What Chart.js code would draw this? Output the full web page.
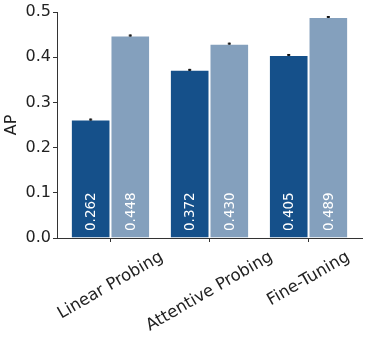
<!DOCTYPE html>
<html>
<head>
<meta charset="utf-8">
<script src="https://cdn.jsdelivr.net/npm/chart.js@4"></script>
<style>
  html, body { margin: 0; padding: 0; background: #fff; }
  #wrap { width: 366px; height: 337px; }
</style>
</head>
<body>
<div id="wrap"><canvas id="myChart"></canvas></div>
<script>
// data
var categories = ['Linear Probing', 'Attentive Probing', 'Fine-Tuning'];
var darkValues = [0.262, 0.372, 0.405];
var lightValues = [0.448, 0.430, 0.489];
var darkErrors = [0.001, 0.001, 0.001];
var lightErrors = [0.001, 0.001, 0.001];
var yTicks = [0.0, 0.1, 0.2, 0.3, 0.4, 0.5];

var FONT = "'DejaVu Sans', sans-serif";
var TEXT = '#222';
var AXIS = '#333';
var X_MIN = -0.54, X_MAX = 2.54; // x range with a small margin, like the original

// value labels, error bars and rotated category labels
var extras = {
    id: 'extras',
    afterLayout: function(chart) {
        // widen the category axis range a little
        var x = chart.scales.x;
        x._startValue = X_MIN;
        x._valueRange = X_MAX - X_MIN;
    },
    afterDatasetsDraw: function(chart) {
        var ctx = chart.ctx;
        var y = chart.scales.y;
        var errs = [darkErrors, lightErrors];
        chart.data.datasets.forEach(function(ds, di) {
            chart.getDatasetMeta(di).data.forEach(function(bar, i) {
                var v = ds.data[i];
                // value text
                ctx.save();
                ctx.translate(bar.x, y.getPixelForValue(0) - 7);
                ctx.rotate(-Math.PI / 2);
                ctx.fillStyle = '#fff';
                ctx.font = '13.5px ' + FONT;
                ctx.textAlign = 'left';
                ctx.textBaseline = 'middle';
                ctx.fillText(v.toFixed(3), 0, 1);
                ctx.restore();
                // error bar
                var e = errs[di][i];
                var top = y.getPixelForValue(v + e), bot = y.getPixelForValue(v - e);
                ctx.save();
                ctx.strokeStyle = '#111';
                ctx.lineWidth = 1;
                ctx.beginPath();
                ctx.moveTo(bar.x, top - 0.5); ctx.lineTo(bar.x, bot + 0.5);
                ctx.moveTo(bar.x - 1.5, top); ctx.lineTo(bar.x + 1.5, top);
                ctx.moveTo(bar.x - 1.5, bot); ctx.lineTo(bar.x + 1.5, bot);
                ctx.stroke();
                ctx.restore();
            });
        });
    },
    afterDraw: function(chart) {
        var ctx = chart.ctx;
        var x = chart.scales.x;
        var base = chart.chartArea.bottom + 12;
        var ang = 30 * Math.PI / 180;
        var size = 16.5;
        ctx.save();
        ctx.font = size + 'px ' + FONT;
        ctx.fillStyle = TEXT;
        categories.forEach(function(c, i) {
            var w = ctx.measureText(c).width;
            var h = w * Math.sin(ang) + size * 0.8 * Math.cos(ang);
            ctx.save();
            ctx.translate(x.getPixelForValue(i), base + h / 2);
            ctx.rotate(-ang);
            ctx.textAlign = 'center';
            ctx.textBaseline = 'middle';
            ctx.fillText(c, 0, 0);
            ctx.restore();
        });
        ctx.restore();
    }
};

var ctx = document.getElementById('myChart').getContext('2d');
var chart = new Chart(ctx, {
    type: 'bar',
    data: {
        labels: categories,
        datasets: [{
            data: darkValues,
            backgroundColor: 'rgb(21, 80, 138)',
            borderColor: 'rgba(255, 255, 255, 0.55)',
            borderWidth: 1
        }, {
            data: lightValues,
            backgroundColor: 'rgb(132, 160, 189)',
            borderColor: 'rgba(255, 255, 255, 0.55)',
            borderWidth: 1
        }]
    },
    options: {
        responsive: true,
        maintainAspectRatio: false,
        animation: false,
        events: [],
        layout: { padding: { top: 12, right: 4, left: 0, bottom: 0 } },
        datasets: { bar: { categoryPercentage: 0.8, barPercentage: 1.0 } },
        plugins: { legend: { display: false }, tooltip: { enabled: false } },
        scales: {
            x: {
                grid: { display: true, drawOnChartArea: false, offset: false, tickLength: 4, color: AXIS },
                border: { display: true, color: AXIS, width: 1 },
                ticks: { display: false },
                afterFit: function(s) { s.height = 99; }
            },
            y: {
                min: 0, max: 0.5,
                grid: { display: true, drawOnChartArea: false, tickLength: 4, color: AXIS },
                border: { display: true, color: AXIS, width: 1 },
                afterBuildTicks: function(s) { s.ticks = yTicks.map(function(v) { return { value: v }; }); },
                ticks: {
                    color: TEXT,
                    font: { family: FONT, size: 16 },
                    padding: 2,
                    callback: function(v) { return Number(v).toFixed(1); }
                },
                title: { display: true, text: 'AP', color: TEXT, font: { family: FONT, size: 16 }, padding: { top: 2, bottom: 0 } },
                afterFit: function(s) { s.width = 57; }
            }
        }
    },
    plugins: [extras]
});
</script>
</body>
</html>
